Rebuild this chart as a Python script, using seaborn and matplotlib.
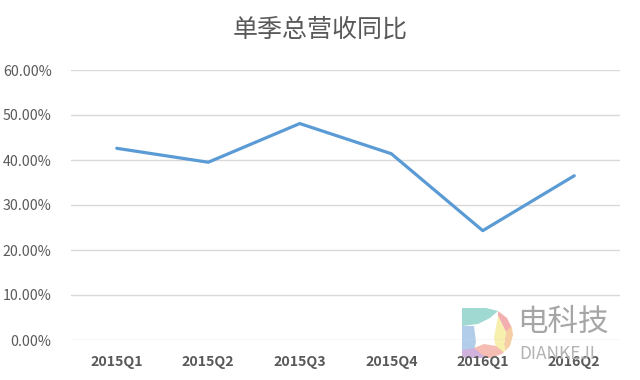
import matplotlib
matplotlib.use("Agg")
import matplotlib.pyplot as plt
import matplotlib.patches as mpatches
import seaborn as sns
import pandas as pd
from matplotlib.ticker import FuncFormatter

categories = ["2015Q1", "2015Q2", "2015Q3", "2015Q4", "2016Q1", "2016Q2"]
values = [42.6, 39.5, 48.1, 41.4, 24.3, 36.5]
yticks = [0, 10, 20, 30, 40, 50, 60]
title = "单季总营收同比"

sns.set_theme(style="white")
plt.rcParams['font.family'] = ['Noto Sans CJK SC', 'DejaVu Sans']

df = pd.DataFrame({"quarter": categories, "yoy": values})

fig = plt.figure(figsize=(6.4, 3.8), dpi=100, facecolor="white")
ax = fig.add_axes([71/640, 1-340/380, (620-71)/640, (340-70)/380])
ax.patch.set_alpha(0)
ax.set_zorder(2)

sns.lineplot(data=df, x="quarter", y="yoy", ax=ax, color="#5B9BD5", linewidth=2.3,
             sort=False)

ax.set_xlim(-0.5, len(categories) - 0.5)
ax.set_ylim(0, 60)
ax.set_yticks(yticks)
ax.yaxis.set_major_formatter(FuncFormatter(lambda v, p: f"{v:.2f}%"))
ax.grid(axis="y", color="#d9d9d9", linewidth=1.0)
ax.grid(axis="x", visible=False)
ax.set_axisbelow(True)
for s in ax.spines.values():
    s.set_visible(False)
ax.set_xlabel("")
ax.set_ylabel("")
ax.tick_params(axis="y", length=0, pad=14, labelsize=10.2, labelcolor="#595959")
ax.tick_params(axis="x", length=0, pad=11, labelsize=10.2, labelcolor="#595959")
for lab in ax.get_xticklabels():
    lab.set_fontweight("bold")

fig.text(0.5, 1-30/380, title, ha="center", va="center", fontsize=18, color="#595959")

# watermark logo (pixel coordinates, y down), drawn beneath the chart axes
wax = fig.add_axes([462/640, 1-358/380, 51/640, 50/380])
wax.set_zorder(1)
wax.set_xlim(0, 51)
wax.set_ylim(50, 0)
wax.axis("off")
dshape = mpatches.Polygon([(0, 0), (24, 0), (36, 3), (45, 10), (50, 20), (51, 27),
                           (48, 38), (40, 46), (28, 50), (0, 50)], closed=True,
                          transform=wax.transData, fc="none", ec="none")
wax.add_patch(dshape)
pieces = [
    mpatches.Polygon([(0, 0), (36, 0), (36, 3), (28, 10), (16, 16), (0, 18)],
                     closed=True, color="#9fd9d2", lw=0),
    mpatches.Polygon([(36, 0), (51, 0), (51, 18), (44, 24), (36, 8)],
                     closed=True, color="#f3aeb0", lw=0),
    mpatches.Polygon([(44, 24), (51, 16), (51, 44), (44, 46), (42, 36)],
                     closed=True, color="#f7cda4", lw=0),
    mpatches.Polygon([(36, 8), (44, 24), (42, 36), (44, 46), (34, 40), (32, 30)],
                     closed=True, color="#f7efac", lw=0),
    mpatches.Polygon([(0, 18), (12, 18), (14, 34), (12, 42), (0, 42)],
                     closed=True, color="#b1cdea", lw=0),
    mpatches.Polygon([(0, 42), (12, 40), (22, 44), (24, 50), (0, 50)],
                     closed=True, color="#d1b2dd", lw=0),
    mpatches.Polygon([(12, 40), (22, 36), (34, 38), (44, 46), (40, 50), (24, 50)],
                     closed=True, color="#f5bdb3", lw=0),
]
for p in pieces:
    wax.add_patch(p)
    p.set_clip_path(dshape)

fig.text(517/640, 1-322/380, "电科技", ha="left", va="center", fontsize=22,
         color="#a6a6a6", fontweight="light")
fig.text(519/640, 1-354/380, "DIANKEJI", ha="left", va="center", fontsize=12.5,
         color="#b3b3b3", fontweight="light")

fig.savefig("out.png", dpi=100, facecolor="white")
